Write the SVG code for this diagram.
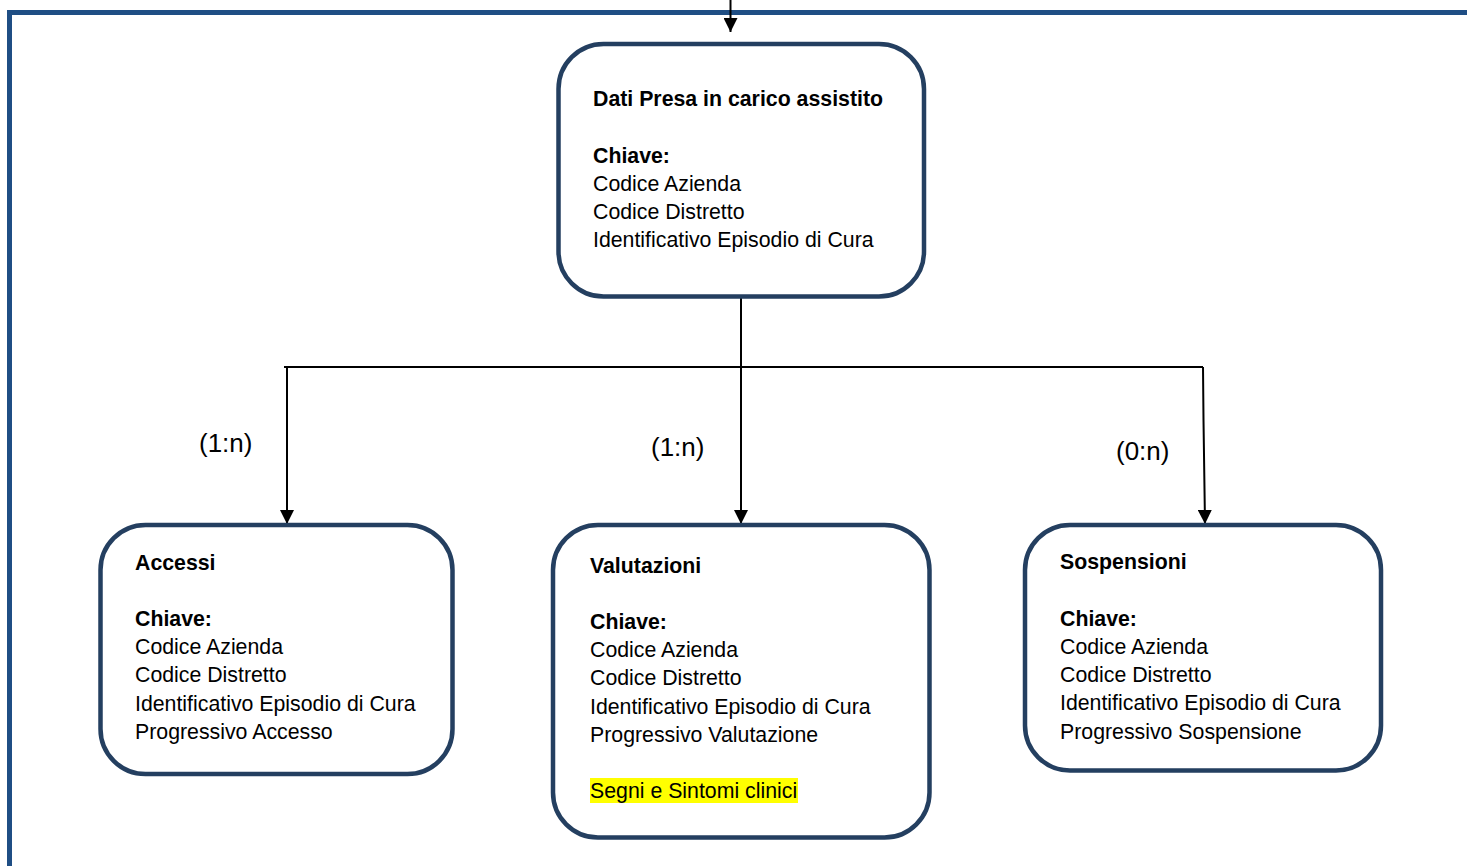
<svg xmlns="http://www.w3.org/2000/svg" width="1467" height="866" viewBox="0 0 1467 866">
<style>
.box{fill:#fff;stroke:#243F60;stroke-width:4.5}
.t{font-family:"Liberation Sans",Arial,sans-serif;font-size:21.3px;fill:#000}
.b{font-weight:bold}
.lbl{font-family:"Liberation Sans",Arial,sans-serif;font-size:26px;fill:#000}
.c{stroke:#000;stroke-width:2;fill:none}
</style>
<defs>
<marker id="ah" viewBox="0 0 14 14" refX="14" refY="7" markerWidth="14" markerHeight="14" markerUnits="userSpaceOnUse" orient="auto">
<path d="M0,0 L14,7 L0,14 Z" fill="#000"/>
</marker>
</defs>
<rect width="1467" height="866" fill="#fff"/>
<g id="frame">
<path d="M9.5,866 V12.5 H1467" fill="none" stroke="#1F4E84" stroke-width="5"/>
</g>
<g id="connectors">
<line class="c" x1="730.5" y1="0" x2="730.5" y2="32" marker-end="url(#ah)"/>
<line class="c" x1="741" y1="297" x2="741" y2="524" marker-end="url(#ah)"/>
<line class="c" x1="284" y1="367" x2="1203" y2="367"/>
<line class="c" x1="287" y1="367" x2="287" y2="524" marker-end="url(#ah)"/>
<polyline class="c" points="1203,367 1203.5,420 1205,524" marker-end="url(#ah)"/>
<text class="lbl" x="199" y="452">(1:n)</text>
<text class="lbl" x="651" y="456">(1:n)</text>
<text class="lbl" x="1116" y="460">(0:n)</text>
</g>
<g id="node-presa">
<rect class="box" x="558.5" y="44" width="365.5" height="252.5" rx="45"/>
<text class="t b" x="593" y="106">Dati Presa in carico assistito</text>
<text class="t b" x="593" y="163">Chiave:</text>
<text class="t" x="593" y="191">Codice Azienda</text>
<text class="t" x="593" y="219">Codice Distretto</text>
<text class="t" x="593" y="247">Identificativo Episodio di Cura</text>
</g>
<g id="node-accessi">
<rect class="box" x="100.5" y="525" width="352" height="249" rx="45"/>
<text class="t b" x="135" y="570">Accessi</text>
<text class="t b" x="135" y="626">Chiave:</text>
<text class="t" x="135" y="654">Codice Azienda</text>
<text class="t" x="135" y="682">Codice Distretto</text>
<text class="t" x="135" y="711">Identificativo Episodio di Cura</text>
<text class="t" x="135" y="739">Progressivo Accesso</text>
</g>
<g id="node-valutazioni">
<rect class="box" x="553" y="525" width="376.5" height="312.5" rx="45"/>
<text class="t b" x="590" y="573">Valutazioni</text>
<text class="t b" x="590" y="629">Chiave:</text>
<text class="t" x="590" y="657">Codice Azienda</text>
<text class="t" x="590" y="685">Codice Distretto</text>
<text class="t" x="590" y="714">Identificativo Episodio di Cura</text>
<text class="t" x="590" y="742">Progressivo Valutazione</text>
<rect x="590" y="778" width="208" height="25" fill="#FFFF00"/>
<text class="t" x="590" y="798">Segni e Sintomi clinici</text>
</g>
<g id="node-sospensioni">
<rect class="box" x="1025" y="525" width="356" height="245.5" rx="45"/>
<text class="t b" x="1060" y="569">Sospensioni</text>
<text class="t b" x="1060" y="626">Chiave:</text>
<text class="t" x="1060" y="654">Codice Azienda</text>
<text class="t" x="1060" y="682">Codice Distretto</text>
<text class="t" x="1060" y="710">Identificativo Episodio di Cura</text>
<text class="t" x="1060" y="739">Progressivo Sospensione</text>
</g>
</svg>
